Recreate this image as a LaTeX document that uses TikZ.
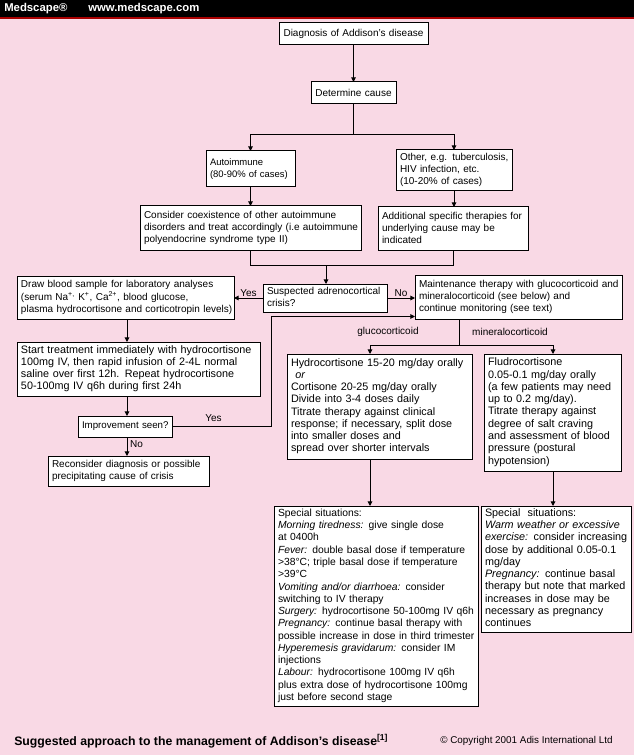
\documentclass[tikz,border=0pt]{standalone}
\usepackage{fontspec}
\setmainfont{Liberation Sans}
\usetikzlibrary{arrows.meta}
\definecolor{bgpink}{RGB}{249,217,229}
\definecolor{hdrred}{RGB}{170,0,0}
\tikzset{
 box/.style={draw=black, fill=white, line width=0.75pt, inner xsep=3pt, inner ysep=1pt, outer sep=0pt, align=left, font=\fontsize{7.5}{9}\selectfont},
 boxc/.style={box, align=center},
 boxl/.style={box, font=\fontsize{8.1}{9.2}\selectfont},
 conn/.style={line width=0.75pt},
 arr/.style={conn, -{Triangle[length=3.5pt,width=3.5pt]}},
 lbl/.style={font=\fontsize{7.5}{9}\selectfont, inner sep=1pt},
}
\newcommand\tl[1]{\begin{tabular}{@{}l@{}}#1\end{tabular}}
\newcommand\bx[7]{%
 \pgfmathsetmacro\bxw{(#4-(#2))*0.75}%
 \pgfmathsetmacro\bxh{(#5-(#3))*0.75}%
 \pgfmathsetmacro\bxt{(#4-(#2))*0.75-6}%
 \node[#6, minimum width=\bxw pt, minimum height=\bxh pt, text width=\bxt pt, anchor=north west] (#1) at (#2,#3) {#7};}
\begin{document}
\begin{tikzpicture}[x=0.75pt,y=-0.75pt]
\useasboundingbox (0,0) rectangle (634,755);
\fill[bgpink] (0,0) rectangle (634,755);
\fill[black] (0,0) rectangle (634,17);
\fill[hdrred] (0,17) rectangle (634,19);
\node[anchor=west, text=white, font=\bfseries\fontsize{8.5}{10}\selectfont, inner sep=0pt] (ms) at (4,8.5) {Medscape®};
\node[anchor=west, text=white, font=\bfseries\fontsize{8.5}{10}\selectfont, inner sep=0pt] (www) at (88,8.5) {www.medscape.com};

\bx{diag}{279}{23}{428}{45}{boxc}{Diagnosis of Addison's disease}
\bx{cause}{311}{82}{396}{104}{boxc}{Determine cause}
\bx{auto}{206}{151}{295}{187}{box,font=\fontsize{7.1}{9}\selectfont}{\tl{Autoimmune\\(80-90\% of cases)}}
\bx{other}{396}{150}{512}{191}{box}{\tl{Other, e.g. tuberculosis,\\HIV infection, etc.\\(10-20\% of cases)}}
\bx{cons}{140}{206}{361}{251}{box}{\tl{Consider coexistence of other autoimmune\\disorders and treat accordingly (i.e autoimmune\\polyendocrine syndrome type II)}}
\bx{addl}{378}{207}{528}{251}{box}{\tl{Additional specific therapies for\\underlying cause may be\\indicated}}
\bx{susp}{263}{284}{387}{312}{box}{\tl{Suspected adrenocortical\\crisis?}}
\bx{draw}{17}{276}{234}{319}{box}{\tl{Draw blood sample for laboratory analyses\\(serum Na\textsuperscript{+,} K\textsuperscript{+}, Ca\textsuperscript{2+}, blood glucose,\\plasma hydrocortisone and corticotropin levels)}}
\bx{maint}{415}{275}{622}{319}{box}{\tl{Maintenance therapy with glucocorticoid and\\mineralocorticoid (see below) and\\continue monitoring (see text)}}
\bx{start}{17}{342}{260}{396}{boxl}{\tl{Start treatment immediately with hydrocortisone\\100mg IV, then rapid infusion of 2-4L normal\\saline over first 12h. Repeat hydrocortisone\\50-100mg IV q6h during first 24h}}
\bx{impr}{78}{416}{172}{437}{boxc,font=\fontsize{7.3}{9}\selectfont}{\mbox{Improvement seen?}}
\bx{recon}{48}{456}{209}{486}{box}{\tl{Reconsider diagnosis or possible\\precipitating cause of crisis}}
\bx{hydro}{287}{354}{472}{459}{boxl}{\tl{Hydrocortisone 15-20 mg/day orally\\\hspace*{0.4em}\textit{or}\\Cortisone 20-25 mg/day orally\\Divide into 3-4 doses daily\\Titrate therapy against clinical\\response; if necessary, split dose\\into smaller doses and\\spread over shorter intervals}}
\bx{flud}{484}{354}{621}{471}{boxl}{\tl{Fludrocortisone\\0.05-0.1 mg/day orally\\(a few patients may need\\up to 0.2 mg/day).\\Titrate therapy against\\degree of salt craving\\and assessment of blood\\pressure (postural\\hypotension)}}
\bx{spec1}{274}{506}{478}{706}{boxl,font=\fontsize{7.75}{9.2}\selectfont}{\tl{Special situations:\\\textit{Morning tiredness:} give single dose\\at 0400h\\\textit{Fever:} double basal dose if temperature\\>38°C; triple basal dose if temperature\\>39°C\\\textit{Vomiting and/or diarrhoea:} consider\\switching to IV therapy\\\textit{Surgery:} hydrocortisone 50-100mg IV q6h\\\textit{Pregnancy:} continue basal therapy with\\possible increase in dose in third trimester\\\textit{Hyperemesis gravidarum:} consider IM\\injections\\\textit{Labour:} hydrocortisone 100mg IV q6h\\plus extra dose of hydrocortisone 100mg\\just before second stage}}
\bx{spec2}{481}{506}{631}{632}{boxl}{\tl{Special\ \ situations:\\\textit{Warm weather or excessive}\\\textit{exercise:} consider increasing\\dose by additional 0.05-0.1\\mg/day\\\textit{Pregnancy:} continue basal\\therapy but note that marked\\increases in dose may be\\necessary as pregnancy\\continues}}

% connectors
\draw[arr] (cause.north |- diag.south) -- (cause.north);
\coordinate (j1) at (353.5,135);
\draw[conn] (cause.south) -- (j1);
\draw[arr] (j1) -| (auto.north);
\draw[arr] (j1) -| (other.north);
\draw[arr] (auto.south) -- (auto.south |- cons.north);
\draw[arr] (other.south) -- (other.south |- addl.north);
\coordinate (mg) at (326,265);
\draw[conn] (cons.south) |- (mg);
\draw[conn] (addl.south) |- (mg);
\draw[arr] (mg) -- (mg |- susp.north);
\draw[arr] (susp.west) -- node[lbl, above, pos=0.5] (yes1) {Yes} (susp.west -| draw.east);
\draw[arr] (susp.east) -- node[lbl, above, pos=0.5] (no1) {No} (susp.east -| maint.west);
\coordinate (vx) at (127,0);
\draw[arr] (vx |- draw.south) -- (vx |- start.north);
\draw[arr] (vx |- start.south) -- (vx |- impr.north);
\draw[arr] (vx |- impr.south) -- node[lbl, right, pos=0.4, xshift=1pt] (no2) {No} (vx |- recon.north);
\coordinate (ly) at (271,316.5);
\draw[arr] (impr.east) -- node[lbl, above, pos=0.42, yshift=2pt] (yes2) {Yes} (impr.east -| ly) -- (ly) -- (ly -| maint.west);
\coordinate (bj) at (459,345);
\draw[conn] (bj |- maint.south) -- (bj);
\coordinate (gx) at (370,0);
\coordinate (mx) at (553,0);
\draw[arr] (bj) -| (gx |- hydro.north);
\draw[arr] (bj) -| (mx |- flud.north);
\node[lbl] (lg) at (388,332) {glucocorticoid};
\node[lbl] (lm) at (510,332) {mineralocorticoid};
\draw[arr] (gx |- hydro.south) -- (gx |- spec1.north);
\draw[arr] (mx |- flud.south) -- (mx |- spec2.north);

% footer
\node[anchor=west, font=\bfseries\fontsize{9.2}{11}\selectfont, inner sep=0pt] (title) at (14,741) {Suggested approach to the management of Addison's disease\textsuperscript{[1]}};
\node[anchor=west, font=\fontsize{7.4}{8}\selectfont, inner sep=0pt] (copy) at (440,741) {© Copyright 2001 Adis International Ltd};
\end{tikzpicture}
\end{document}
